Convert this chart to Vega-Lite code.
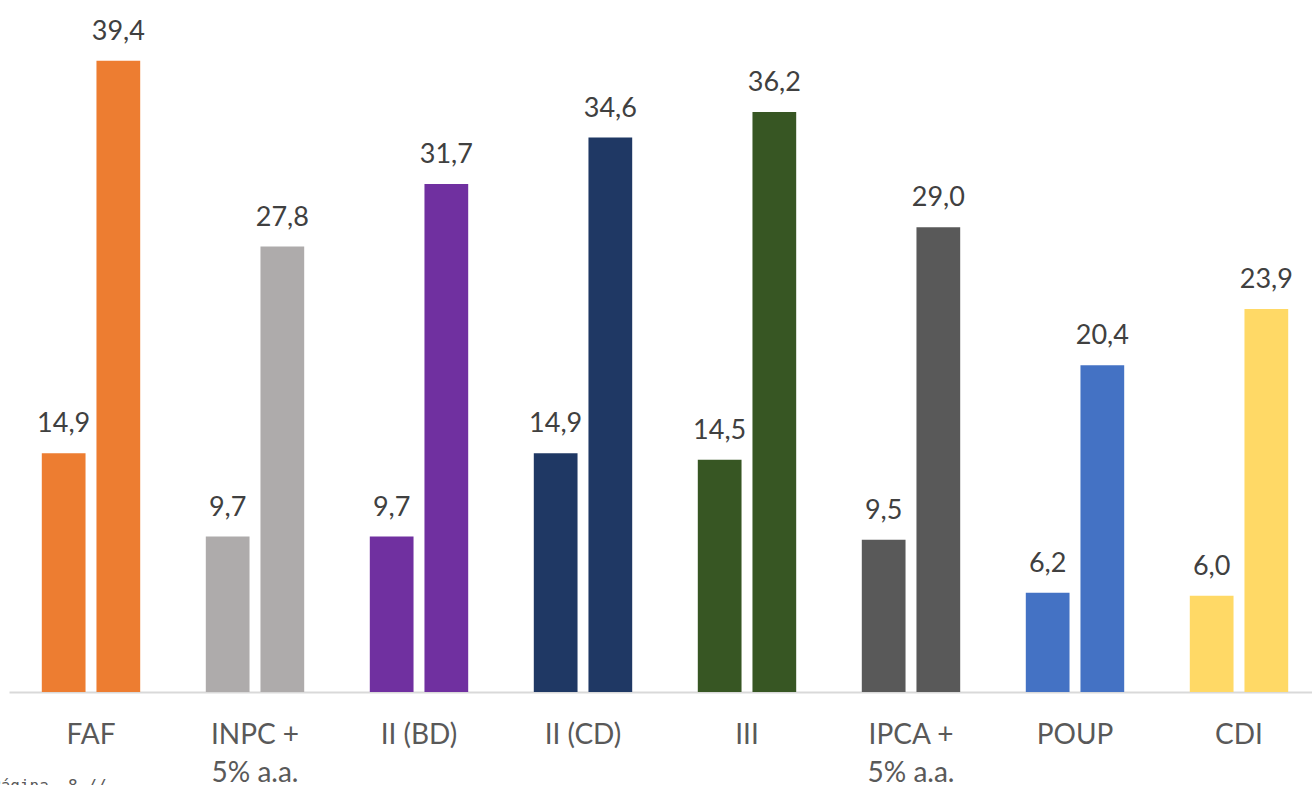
{
  "$schema": "https://vega.github.io/schema/vega-lite/v6.json",
  "width": 1312,
  "height": 689,
  "autosize": {"type": "none"},
  "padding": {"left": 9, "top": 3, "right": 0, "bottom": 93},
  "background": "#ffffff",
  "config": {
    "view": {"stroke": null},
    "locale": {"number": {"decimal": ",", "thousands": ".", "grouping": [3], "currency": ["R$", ""]}},
    "font": "Lato"
  },
  "title": {
    "text": "Página\u00a0\u00a08 //",
    "orient": "bottom",
    "anchor": "start",
    "dx": -18,
    "offset": -9,
    "fontSize": 16,
    "fontWeight": "normal",
    "color": "#595959",
    "font": "DejaVu Sans Mono"
  },
  "data": {
    "values": [
      {"cat": "FAF", "serie": "a", "valor": 14.9},
      {"cat": "FAF", "serie": "b", "valor": 39.4},
      {"cat": "INPC +|5% a.a.", "serie": "a", "valor": 9.7},
      {"cat": "INPC +|5% a.a.", "serie": "b", "valor": 27.8},
      {"cat": "II (BD)", "serie": "a", "valor": 9.7},
      {"cat": "II (BD)", "serie": "b", "valor": 31.7},
      {"cat": "II (CD)", "serie": "a", "valor": 14.9},
      {"cat": "II (CD)", "serie": "b", "valor": 34.6},
      {"cat": "III", "serie": "a", "valor": 14.5},
      {"cat": "III", "serie": "b", "valor": 36.2},
      {"cat": "IPCA +|5% a.a.", "serie": "a", "valor": 9.5},
      {"cat": "IPCA +|5% a.a.", "serie": "b", "valor": 29.0},
      {"cat": "POUP", "serie": "a", "valor": 6.2},
      {"cat": "POUP", "serie": "b", "valor": 20.4},
      {"cat": "CDI", "serie": "a", "valor": 6.0},
      {"cat": "CDI", "serie": "b", "valor": 23.9}
    ]
  },
  "encoding": {
    "x": {
      "field": "cat",
      "type": "nominal",
      "sort": null,
      "scale": {"paddingInner": 0.4, "paddingOuter": 0.2},
      "axis": {
        "title": null,
        "ticks": false,
        "domainColor": "#d9d9d9",
        "domainWidth": 2,
        "labelAngle": 0,
        "labelFontSize": 28,
        "labelColor": "#595959",
        "labelPadding": 29,
        "labelLineHeight": 38,
        "labelExpr": "split(datum.label, '|')"
      }
    },
    "xOffset": {"field": "serie", "type": "nominal", "scale": {"paddingInner": 0.2}},
    "y": {"field": "valor", "type": "quantitative", "scale": {"domain": [0, 43], "nice": false}, "axis": null}
  },
  "layer": [
    {
      "mark": {"type": "bar"},
      "encoding": {
        "color": {
          "field": "cat",
          "type": "nominal",
          "sort": null,
          "legend": null,
          "scale": {
            "domain": ["FAF", "INPC +|5% a.a.", "II (BD)", "II (CD)", "III", "IPCA +|5% a.a.", "POUP", "CDI"],
            "range": ["#ED7D31", "#AEABAB", "#7030A0", "#1F3864", "#375623", "#595959", "#4472C4", "#FFD966"]
          }
        }
      }
    },
    {
      "mark": {"type": "text", "baseline": "alphabetic", "dy": -21, "fontSize": 27, "color": "#404040"},
      "encoding": {
        "text": {"field": "valor", "type": "quantitative", "format": ".1f"}
      }
    }
  ]
}
